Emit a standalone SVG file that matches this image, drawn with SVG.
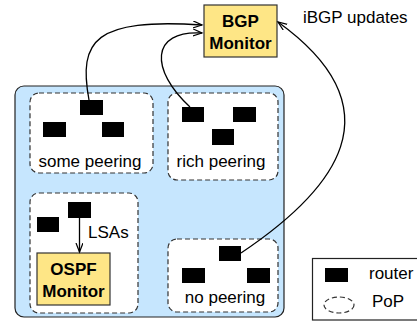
<svg xmlns="http://www.w3.org/2000/svg" width="417" height="331" viewBox="0 0 417 331">
<style>
text{font-family:"Liberation Sans",Arial,sans-serif;font-size:17px;fill:#000}
.b{font-weight:bold;text-anchor:middle}
.c{text-anchor:middle}
.pop{fill:#fff;stroke:#333;stroke-width:1.2;stroke-dasharray:5,3}
.mon{fill:#fee686;stroke:#333;stroke-width:1.2}
.rt{fill:#000}
.edge{fill:none;stroke:#000;stroke-width:1.3}
</style>
<defs>
<marker id="ah" markerUnits="userSpaceOnUse" markerWidth="12" markerHeight="10" refX="9" refY="3.5" orient="auto">
<path d="M0,0 L9,3.5 L0,7" fill="none" stroke="#000" stroke-width="1.2"/>
</marker>
</defs>
<rect id="network" x="15" y="86" width="269" height="231" rx="9" fill="#c6e6fe" stroke="#222" stroke-width="1.2"/>
<g id="pop-some">
<rect class="pop" x="30" y="93" width="123" height="80" rx="9"/>
<rect class="rt" x="80" y="100" width="23" height="15"/>
<rect class="rt" x="43" y="122" width="23" height="15"/>
<rect class="rt" x="102" y="122" width="22" height="15"/>
<text class="c" x="90" y="167">some peering</text>
</g>
<g id="pop-rich">
<rect class="pop" x="168" y="93" width="110" height="87" rx="9"/>
<rect class="rt" x="182" y="107" width="22" height="15"/>
<rect class="rt" x="233" y="107" width="23" height="15"/>
<rect class="rt" x="212" y="129" width="22" height="16"/>
<text class="c" x="221" y="167">rich peering</text>
</g>
<g id="pop-ospf">
<rect class="pop" x="30" y="193" width="108" height="120" rx="9"/>
<rect class="rt" x="37" y="217" width="22" height="15"/>
<rect class="rt" x="68" y="202" width="23" height="16"/>
<text x="88" y="238">LSAs</text>
</g>
<g id="ospf-monitor">
<rect class="mon" x="37" y="253" width="73" height="52"/>
<text class="b" x="73.5" y="275">OSPF</text>
<text class="b" x="73.5" y="297">Monitor</text>
</g>
<g id="pop-no">
<rect class="pop" x="168" y="239" width="110" height="73" rx="9"/>
<rect class="rt" x="182" y="268" width="23" height="15"/>
<rect class="rt" x="219" y="246" width="22" height="15"/>
<rect class="rt" x="247" y="268" width="23" height="15"/>
<text class="c" x="225" y="303">no peering</text>
</g>
<g id="bgp-monitor">
<rect class="mon" x="204" y="5" width="73" height="52"/>
<text class="b" x="240.5" y="27">BGP</text>
<text class="b" x="240.5" y="49">Monitor</text>
</g>
<text id="ibgp-label" x="303" y="23">iBGP updates</text>
<g id="connectors">
<path class="edge" d="M89,100 C78,40 95,18 202,25" marker-end="url(#ah)"/>
<path class="edge" d="M190,107 C150,70 150,30 202,33" marker-end="url(#ah)"/>
<path class="edge" d="M241,253 C335,190 400,110 278,22" marker-end="url(#ah)"/>
<path class="edge" d="M79.5,218 L79.5,252" marker-end="url(#ah)"/>
</g>
<g id="legend">
<rect x="312.5" y="258.5" width="110" height="61.5" fill="#fff" stroke="#222" stroke-width="1.2"/>
<rect class="rt" x="325" y="268" width="23" height="14"/>
<text x="369" y="279">router</text>
<ellipse class="pop" cx="339" cy="305" rx="15" ry="8"/>
<text x="372" y="307">PoP</text>
</g>
</svg>
